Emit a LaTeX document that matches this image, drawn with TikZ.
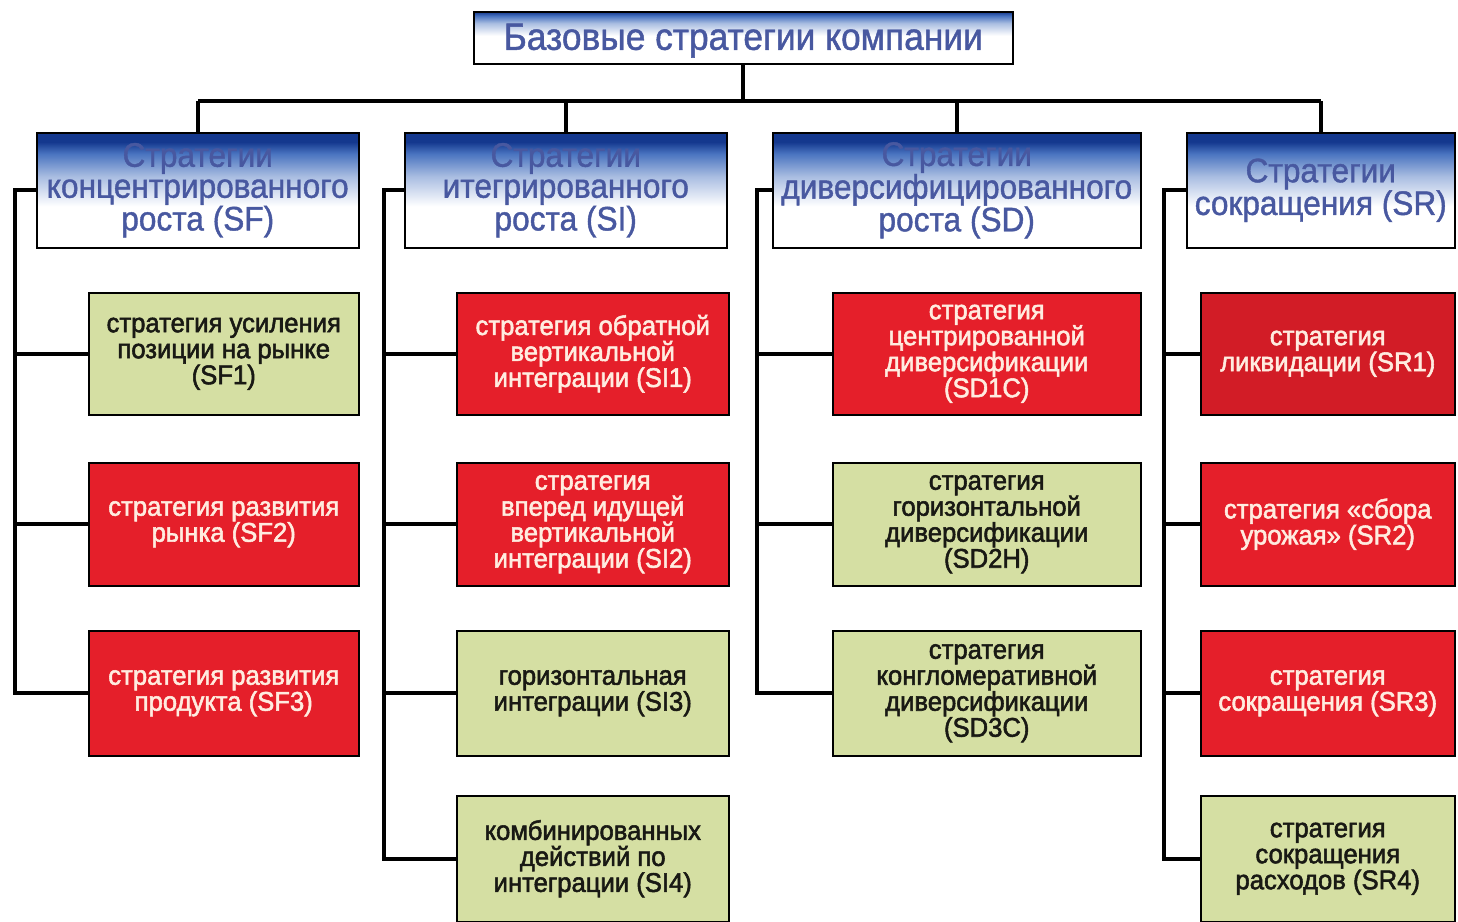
\documentclass[tikz,border=0pt]{standalone}
\usepackage{fontspec}
\setmainfont{Liberation Sans}
\newfontfamily\boxfont[FakeBold=2,FakeStretch=0.95]{Liberation Sans}
\newfontfamily\hdrfont[FakeBold=1.2,FakeStretch=0.93]{Liberation Sans}
\definecolor{gfill}{RGB}{213,223,163}
\definecolor{rfill}{RGB}{229,31,42}
\definecolor{rdark}{RGB}{210,28,38}
\definecolor{hblue}{RGB}{40,90,180}
\definecolor{hdark}{RGB}{20,56,142}
\definecolor{htext}{RGB}{72,88,160}
\definecolor{rtext}{RGB}{255,236,224}
\definecolor{gtext}{RGB}{25,25,20}
\pgfdeclareverticalshading{hdrshade}{100bp}{color(0bp)=(white); color(25bp)=(white); color(43bp)=(white); color(56bp)=(hblue!40); color(66bp)=(hblue!85); color(71bp)=(hdark); color(100bp)=(hdark)}
\pgfdeclareverticalshading{titleshade}{100bp}{color(0bp)=(white); color(25bp)=(white); color(52bp)=(white); color(64bp)=(hblue!40); color(71bp)=(hblue!85); color(75bp)=(hdark); color(100bp)=(hdark)}
\tikzset{
  boxbase/.style={draw=black, line width=1.5pt, anchor=north west, align=center, inner sep=0pt},
  titlebox/.style={boxbase, shading=titleshade, text=htext, font=\hdrfont\fontsize{38}{40}\selectfont},
  hdrbox/.style={boxbase, shading=hdrshade, text=htext, font=\hdrfont\fontsize{34}{31}\selectfont, minimum height=115pt},
  greenbox/.style={boxbase, fill=gfill, text=gtext, font=\boxfont\fontsize{27}{26}\selectfont},
  redbox/.style={boxbase, fill=rfill, text=rtext, font=\boxfont\fontsize{27}{26}\selectfont},
  conn/.style={draw=black, line width=4pt}
}
\begin{document}
\begin{tikzpicture}[x=1pt,y=-1pt]
\useasboundingbox[fill=white] (0,0) rectangle (1458,921);
% title
\node[titlebox, minimum width=539pt, minimum height=52pt, text depth=2pt] (title) at (473,11) {Базовые стратегии компании};
% headers
\node[hdrbox, minimum width=322pt] (hSF) at (36,132) {Стратегии\\концентрированного\\роста (SF)};
\node[hdrbox, minimum width=322pt] (hSI) at (404,132) {Стратегии\\итегрированного\\роста (SI)};
\node[hdrbox, minimum width=368pt] (hSD) at (772,132) {Стратегии\\диверсифицированного\\роста (SD)};
\node[hdrbox, minimum width=268pt] (hSR) at (1186,132) {Стратегии\\сокращения (SR)};
% SF column
\node[greenbox, minimum width=270pt, minimum height=122pt] (SF1) at (88,292) {стратегия усиления\\позиции на рынке\\(SF1)};
\node[redbox, minimum width=270pt, minimum height=123pt] (SF2) at (88,462) {стратегия развития\\рынка (SF2)};
\node[redbox, minimum width=270pt, minimum height=125pt] (SF3) at (88,630) {стратегия развития\\продукта (SF3)};
% SI column
\node[redbox, minimum width=272pt, minimum height=122pt] (SI1) at (456,292) {стратегия обратной\\вертикальной\\интеграции (SI1)};
\node[redbox, minimum width=272pt, minimum height=123pt] (SI2) at (456,462) {стратегия\\вперед идущей\\вертикальной\\интеграции (SI2)};
\node[greenbox, minimum width=272pt, minimum height=125pt] (SI3) at (456,630) {горизонтальная\\интеграции (SI3)};
\node[greenbox, minimum width=272pt, minimum height=126pt] (SI4) at (456,795) {комбинированных\\действий по\\интеграции (SI4)};
% SD column
\node[redbox, minimum width=308pt, minimum height=122pt] (SD1) at (832,292) {стратегия\\центрированной\\диверсификации\\(SD1C)};
\node[greenbox, minimum width=308pt, minimum height=123pt] (SD2) at (832,462) {стратегия\\горизонтальной\\диверсификации\\(SD2H)};
\node[greenbox, minimum width=308pt, minimum height=125pt] (SD3) at (832,630) {стратегия\\конгломеративной\\диверсификации\\(SD3C)};
% SR column
\node[redbox, fill=rdark, minimum width=254pt, minimum height=122pt] (SR1) at (1200,292) {стратегия\\ликвидации (SR1)};
\node[redbox, minimum width=254pt, minimum height=123pt] (SR2) at (1200,462) {стратегия «сбора\\урожая» (SR2)};
\node[redbox, minimum width=254pt, minimum height=125pt] (SR3) at (1200,630) {стратегия\\сокращения (SR3)};
\node[greenbox, minimum width=254pt, minimum height=126pt] (SR4) at (1200,795) {стратегия\\сокращения\\расходов (SR4)};
% bus coordinates
\coordinate (bus) at (0,101);
\coordinate (vSF) at (15,0);
\coordinate (vSI) at (384,0);
\coordinate (vSD) at (757,0);
\coordinate (vSR) at (1164,0);
% top tree
\draw[conn] (title.south) -- (title.south |- bus);
\draw[conn] (hSF.north |- bus) -- (hSR.north |- bus);
\foreach \h in {hSF,hSI,hSD,hSR} \draw[conn] (\h.north) -- (\h.north |- bus);
% column buses
\draw[conn] (hSF.west) -- (hSF.west -| vSF) |- (SF3.west);
\draw[conn] (SF1.west) -- (SF1.west -| vSF);
\draw[conn] (SF2.west) -- (SF2.west -| vSF);
\draw[conn] (hSI.west) -- (hSI.west -| vSI) |- (SI4.west);
\foreach \b in {SI1,SI2,SI3} \draw[conn] (\b.west) -- (\b.west -| vSI);
\draw[conn] (hSD.west) -- (hSD.west -| vSD) |- (SD3.west);
\foreach \b in {SD1,SD2} \draw[conn] (\b.west) -- (\b.west -| vSD);
\draw[conn] (hSR.west) -- (hSR.west -| vSR) |- (SR4.west);
\foreach \b in {SR1,SR2,SR3} \draw[conn] (\b.west) -- (\b.west -| vSR);
\end{tikzpicture}
\end{document}
